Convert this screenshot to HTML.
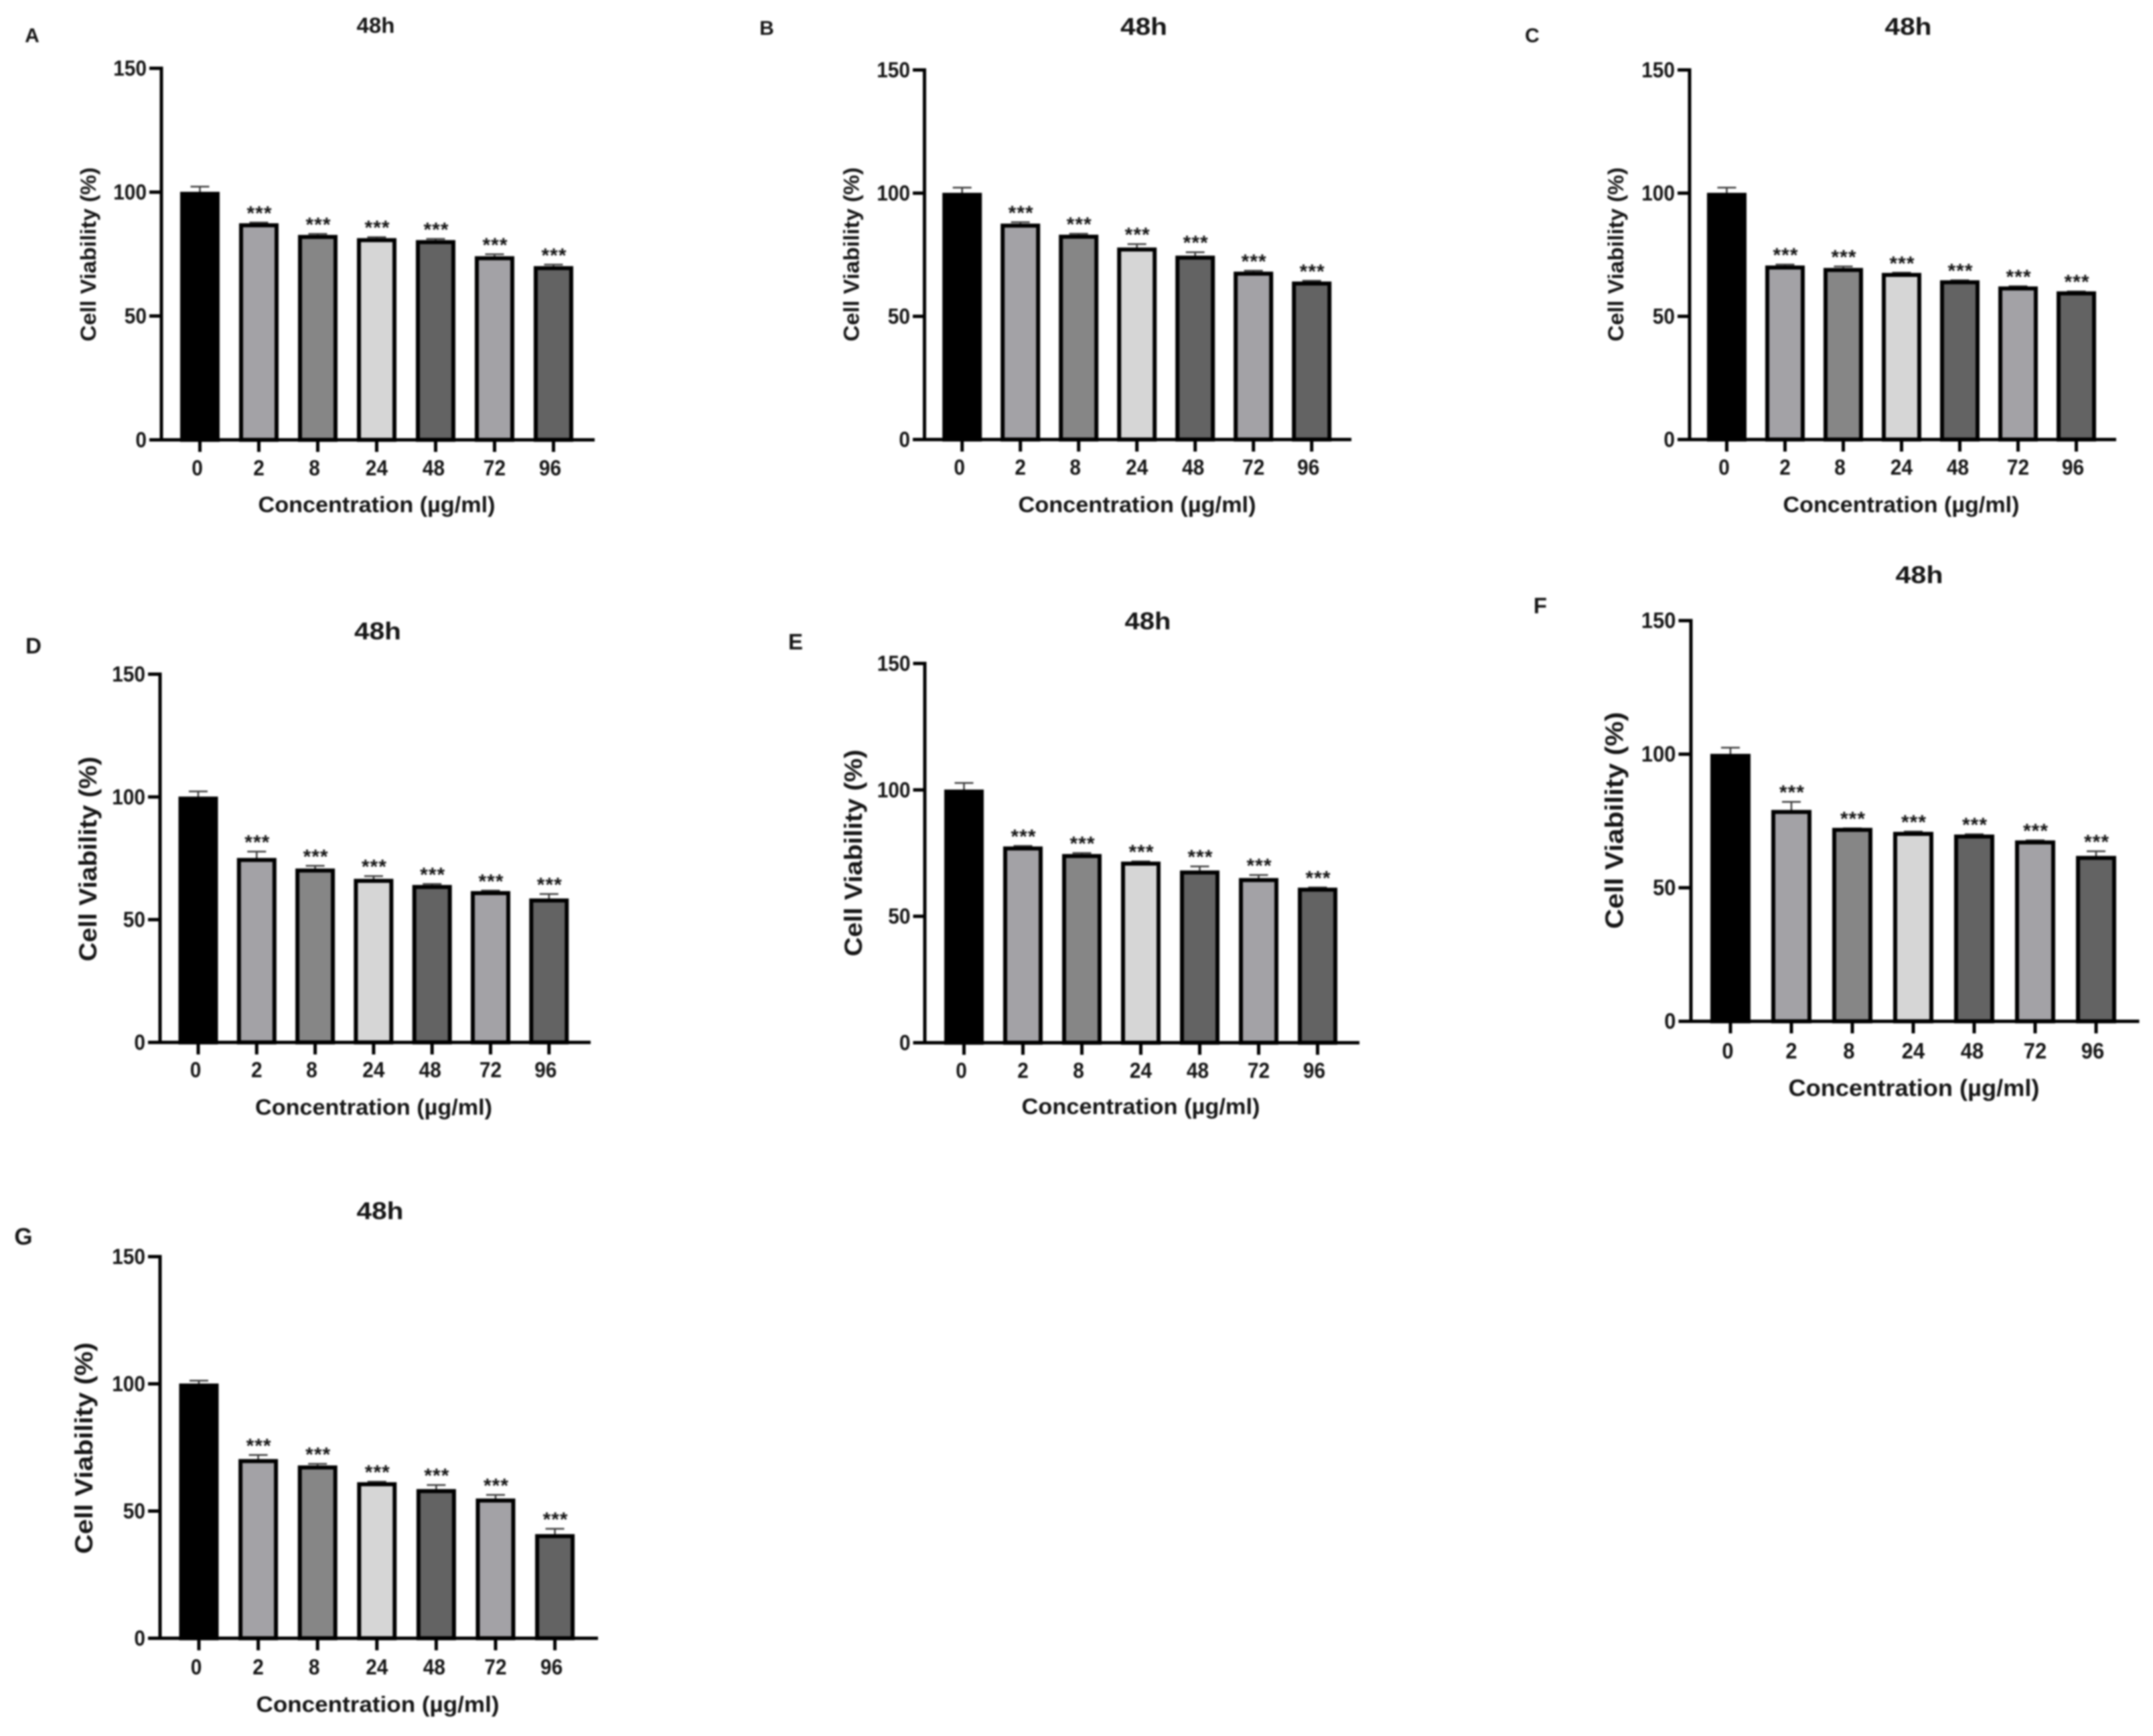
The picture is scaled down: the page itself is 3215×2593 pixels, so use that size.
<!DOCTYPE html>
<html lang="en">
<head>
<meta charset="utf-8">
<title>Cell viability at 48h, panels A to G</title>
<style>
html,body{margin:0;padding:0;background:#fff;}
svg{display:block;filter:blur(1.3px);}
text{font-family:"Liberation Sans",Arial,sans-serif;font-weight:bold;fill:#151515;}
.letter{text-anchor:middle;}
.ttl{text-anchor:middle;}
.xt{text-anchor:middle;font-size:33px;}
.yt{text-anchor:middle;}
</style>
</head>
<body>
<svg id="figure" xmlns="http://www.w3.org/2000/svg" width="3215" height="2593" viewBox="0 0 3215 2593">
<rect width="3215" height="2593" fill="#fff"/>

<g id="panel-a">
<text class="letter" x="48" y="63" font-size="30">A</text>
<text class="ttl" x="561" y="49" font-size="32" textLength="57" lengthAdjust="spacingAndGlyphs">48h</text>
<text class="yt" transform="translate(132,380) rotate(-90)" dy=".35em" font-size="32" textLength="260" lengthAdjust="spacingAndGlyphs">Cell Viability (%)</text>
<text class="xt" x="562.5" y="765" textLength="354" lengthAdjust="spacingAndGlyphs">Concentration (µg/ml)</text>
</g>

<g id="panel-b">
<text class="letter" x="1145" y="52" font-size="30">B</text>
<text class="ttl" x="1708" y="52" font-size="36" textLength="70" lengthAdjust="spacingAndGlyphs">48h</text>
<text class="yt" transform="translate(1271.5,380) rotate(-90)" dy=".35em" font-size="32" textLength="260" lengthAdjust="spacingAndGlyphs">Cell Viability (%)</text>
<text class="xt" x="1698" y="765" textLength="355" lengthAdjust="spacingAndGlyphs">Concentration (µg/ml)</text>
</g>

<g id="panel-c">
<text class="letter" x="2288" y="63" font-size="30">C</text>
<text class="ttl" x="2849.5" y="52" font-size="36" textLength="70" lengthAdjust="spacingAndGlyphs">48h</text>
<text class="yt" transform="translate(2413,380) rotate(-90)" dy=".35em" font-size="32" textLength="260" lengthAdjust="spacingAndGlyphs">Cell Viability (%)</text>
<text class="xt" x="2839" y="765" textLength="353" lengthAdjust="spacingAndGlyphs">Concentration (µg/ml)</text>
</g>

<g id="panel-d">
<text class="letter" x="50" y="976" font-size="33">D</text>
<text class="ttl" x="564" y="955" font-size="36" textLength="70" lengthAdjust="spacingAndGlyphs">48h</text>
<text class="yt" transform="translate(131,1283) rotate(-90)" dy=".35em" font-size="37" textLength="306" lengthAdjust="spacingAndGlyphs">Cell Viability (%)</text>
<text class="xt" x="558" y="1665" textLength="354" lengthAdjust="spacingAndGlyphs">Concentration (µg/ml)</text>
</g>

<g id="panel-e">
<text class="letter" x="1188" y="970" font-size="33">E</text>
<text class="ttl" x="1714" y="940" font-size="36" textLength="69" lengthAdjust="spacingAndGlyphs">48h</text>
<text class="yt" transform="translate(1274,1274) rotate(-90)" dy=".35em" font-size="37" textLength="309" lengthAdjust="spacingAndGlyphs">Cell Viability (%)</text>
<text class="xt" x="1703.5" y="1664" textLength="356" lengthAdjust="spacingAndGlyphs">Concentration (µg/ml)</text>
</g>

<g id="panel-f">
<text class="letter" x="2300" y="916" font-size="33">F</text>
<text class="ttl" x="2866" y="871" font-size="36" textLength="71" lengthAdjust="spacingAndGlyphs">48h</text>
<text class="yt" transform="translate(2410,1225.5) rotate(-90)" dy=".35em" font-size="38" textLength="324" lengthAdjust="spacingAndGlyphs">Cell Viability (%)</text>
<text class="xt" x="2858" y="1637" style="font-size:35px" textLength="375" lengthAdjust="spacingAndGlyphs">Concentration (µg/ml)</text>
</g>

<g id="panel-g">
<text class="letter" x="35" y="1859" font-size="35">G</text>
<text class="ttl" x="567.5" y="1821" font-size="36" textLength="70" lengthAdjust="spacingAndGlyphs">48h</text>
<text class="yt" transform="translate(125,2163) rotate(-90)" dy=".35em" font-size="37" textLength="316" lengthAdjust="spacingAndGlyphs">Cell Viability (%)</text>
<text class="xt" x="564" y="2557" textLength="363" lengthAdjust="spacingAndGlyphs">Concentration (µg/ml)</text>
</g>
</svg>

<script>
// Chart data
const categories = ['0', '2', '8', '24', '48', '72', '96'];
const yTickLabels = [0, 50, 100, 150];
const significance = ['', '***', '***', '***', '***', '***', '***'];

const valuesA = [100, 87.3, 82.6, 81.3, 80.5, 74, 70];
const errorsA = [2.5, 0.7, 0.8, 0.8, 0.9, 1.2, 1];
const valuesB = [100, 87.5, 83, 77.8, 74.5, 68, 64];
const errorsB = [2.5, 1, 0.8, 1.8, 1.8, 0.8, 0.7];
const valuesC = [100, 70.5, 69.5, 67.5, 64.5, 62, 60];
const errorsC = [2.5, 0.8, 1, 0.5, 0.4, 0.5, 0.4];
const valuesD = [100, 75, 70.7, 66.5, 64, 61.5, 58.5];
const errorsD = [2.5, 3, 1.5, 1.5, 0.8, 0.6, 2.2];
const valuesE = [100, 77.5, 74.5, 71.5, 68, 65, 61.2];
const errorsE = [3, 0.6, 0.8, 0.5, 2, 1.6, 0.5];
const valuesF = [100, 79, 72.3, 70.8, 69.8, 67.6, 61.8];
const errorsF = [2.7, 3.4, 0.2, 0.5, 0.5, 0.4, 2.1];
const valuesG = [100, 70.3, 67.8, 61.2, 58.5, 54.8, 40.8];
const errorsG = [1.5, 2, 1, 0.6, 2, 1.8, 2.5];

const barFills = ['#000000', '#a3a2a6', '#868686', '#d6d6d6', '#636363', '#a3a2a6', '#636363'];
const labelNudge = [-4, 0, -5, 0, -3, 0, -5];

// Layout of each panel (pixels)
const panels = [
  {id: 'panel-a', key: 'a', values: valuesA, errors: errorsA, axisX: 241, y150: 102, y0: 657, first: 298.5, pitch: 88, left: 223, right: 888, labelY: 699, tickFont: 32, digitW: 16.6, barW: 59},
  {id: 'panel-b', key: 'b', values: valuesB, errors: errorsB, axisX: 1380.5, y150: 104.5, y0: 656.5, first: 1436.7, pitch: 87, left: 1363, right: 2018, labelY: 698, tickFont: 32, digitW: 16.6, barW: 59},
  {id: 'panel-c', key: 'c', values: valuesC, errors: errorsC, axisX: 2523, y150: 104.5, y0: 656.5, first: 2578.5, pitch: 87, left: 2505, right: 3160, labelY: 698, tickFont: 32, digitW: 16.6, barW: 59},
  {id: 'panel-d', key: 'd', values: valuesD, errors: errorsD, axisX: 239, y150: 1007, y0: 1557, first: 296, pitch: 87.3, left: 221, right: 882, labelY: 1598, tickFont: 32, digitW: 16.6, barW: 59},
  {id: 'panel-e', key: 'e', values: valuesE, errors: errorsE, axisX: 1381, y150: 991, y0: 1557.5, first: 1439.5, pitch: 88, left: 1363.5, right: 2030, labelY: 1599, tickFont: 32, digitW: 16.6, barW: 59},
  {id: 'panel-f', key: 'f', values: valuesF, errors: errorsF, axisX: 2525, y150: 927, y0: 1525.5, first: 2584, pitch: 91, left: 2506.5, right: 3194.5, labelY: 1570, tickFont: 33, digitW: 17.2, barW: 60},
  {id: 'panel-g', key: 'g', values: valuesG, errors: errorsG, axisX: 239, y150: 1877, y0: 2447, first: 297, pitch: 88.6, left: 221, right: 893, labelY: 2490, tickFont: 32, digitW: 16.6, barW: 59}
];

const NS = 'http://www.w3.org/2000/svg';
const BORDER = 6;
const TOP_SHIFT = 2.5;

function make(tag, attrs, parent) {
  const el = document.createElementNS(NS, tag);
  for (const k in attrs) el.setAttribute(k, attrs[k]);
  parent.appendChild(el);
  return el;
}

panels.forEach(function (p) {
  const root = document.getElementById(p.id);
  const yScale = function (v) { return p.y0 - (v / 150) * (p.y0 - p.y150); };
  const xScale = function (i) { return p.first + i * p.pitch; };

  categories.forEach(function (cat, i) {
    const cx = xScale(i);
    const top = yScale(p.values[i]) + TOP_SHIFT;
    const capY = yScale(p.values[i] + p.errors[i]) + 1;

    const stem = make('line', {x1: cx, x2: cx, y1: top, y2: capY, stroke: '#3a3a3a', 'stroke-width': 2.5}, root);
    
    

    const cap = make('line', {x1: cx - 14, x2: cx + 14, y1: capY, y2: capY, stroke: '#3a3a3a', 'stroke-width': 2.5}, root);
    
    

    const bar = make('rect', {x: cx - p.barW / 2 + BORDER / 2, y: top, width: p.barW - BORDER, height: p.y0 - top, fill: barFills[i], stroke: '#000', 'stroke-width': BORDER}, root);
    
    

    if (significance[i]) {
      const star = make('text', {x: cx + 1, y: capY - 4, 'text-anchor': 'middle', 'font-size': 30, 'letter-spacing': 1}, root);
      star.textContent = significance[i];
      
      
    }

    const tick = make('line', {x1: cx, x2: cx, y1: p.y0, y2: p.y0 + 18, stroke: '#000', 'stroke-width': 5}, root);
    
    

    const lab = make('text', {x: cx + labelNudge[i], y: p.labelY + 11, 'text-anchor': 'middle', 'font-size': p.tickFont, textLength: cat.length * p.digitW, lengthAdjust: 'spacingAndGlyphs'}, root);
    lab.textContent = cat;
    
    
  });

  yTickLabels.forEach(function (v) {
    const y = yScale(v);
    const tick = make('line', {x1: p.left, x2: p.axisX, y1: y, y2: y, stroke: '#000', 'stroke-width': 5}, root);
    
    

    const txt = String(v);
    const lab = make('text', {x: p.left - 4, y: y + 11, 'text-anchor': 'end', 'font-size': p.tickFont, textLength: txt.length * p.digitW, lengthAdjust: 'spacingAndGlyphs'}, root);
    lab.textContent = txt;
    
    
  });

  const yAxis = make('line', {x1: p.axisX, x2: p.axisX, y1: p.y150 - 2.5, y2: p.y0 + 2.5, stroke: '#000', 'stroke-width': 5}, root);
  
  

  const xAxis = make('line', {x1: p.left, x2: p.right, y1: p.y0, y2: p.y0, stroke: '#000', 'stroke-width': 5}, root);
  
  
});
</script>
</body>
</html>
